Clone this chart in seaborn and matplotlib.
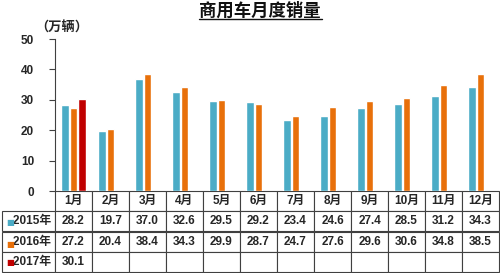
import numpy as np
import pandas as pd
import seaborn as sns
import matplotlib
matplotlib.use("Agg")
import matplotlib.pyplot as plt
from matplotlib.lines import Line2D

months = ["1月", "2月", "3月", "4月", "5月", "6月", "7月", "8月", "9月", "10月", "11月", "12月"]
series_names = ["2015年", "2016年", "2017年"]
sales_2015 = [28.2, 19.7, 37.0, 32.6, 29.5, 29.2, 23.4, 24.6, 27.4, 28.5, 31.2, 34.3]
sales_2016 = [27.2, 20.4, 38.4, 34.3, 29.9, 28.7, 24.7, 27.6, 29.6, 30.6, 34.8, 38.5]
sales_2017 = [30.1]
colors = ["#4BACC6", "#E8700A", "#C00000"]
yticks = [0, 10, 20, 30, 40, 50]

sns.set_theme(style="white")
FONTS = ["Liberation Sans", "Noto Sans CJK SC", "DejaVu Sans"]
plt.rcParams["font.family"] = FONTS

rows = []
for name, vals in zip(series_names, [sales_2015, sales_2016, sales_2017]):
    for m, v in zip(months, vals):
        rows.append({"month": m, "year": name, "value": v})
df = pd.DataFrame(rows)

fig = plt.figure(figsize=(5.0, 2.73), dpi=100)
W, H = 500, 273
ax_l, ax_r, ax_t, ax_b = 55, 499, 39, 191
ax = fig.add_axes([ax_l / W, 1 - ax_b / H, (ax_r - ax_l) / W, (ax_b - ax_t) / H])

sns.barplot(data=df, x="month", y="value", hue="year", order=months,
            hue_order=series_names, palette=colors, width=0.69, gap=0.12,
            errorbar=None, legend=False, ax=ax, saturation=1)

ax.set_xlim(-0.5, len(months) - 0.5)
ax.set_ylim(0, 50)
ax.set_yticks(yticks)
ax.set_yticklabels([str(t) for t in yticks], fontsize=8.5, fontweight="bold")
ax.tick_params(axis="y", direction="out", length=4, width=0.8, color="#404040", pad=11, left=True)
ax.tick_params(axis="x", bottom=False, labelbottom=False)
ax.set_xlabel("")
ax.set_ylabel("")
for s in ["top", "right", "bottom"]:
    ax.spines[s].set_visible(False)
ax.spines["left"].set_color("#404040")
ax.spines["left"].set_linewidth(0.8)

# data table
aw = ax_r - ax_l
ah = ax_b - ax_t
tbl_top, tbl_bottom = 191, 272
cell_text = [
    [f"{v:.1f}" for v in sales_2015],
    [f"{v:.1f}" for v in sales_2016],
    [f"{v:.1f}" for v in sales_2017] + [""] * (len(months) - len(sales_2017)),
]
tbl = ax.table(cellText=cell_text, colLabels=months,
               cellLoc="center",
               colWidths=[1 / len(months)] * len(months),
               bbox=[0, -(tbl_bottom - tbl_top) / ah, 1, (tbl_bottom - tbl_top) / ah])
cell_h = tbl[(0, 0)].get_height()
for i, name in enumerate(series_names):
    tbl.add_cell(i + 1, -1, width=53 / aw, height=cell_h, text=name + " ", loc="right")
tbl.auto_set_font_size(False)
for (r, c), cell in tbl.get_celld().items():
    cell.set_edgecolor("#404040")
    cell.set_linewidth(0.8)
    cell.set_facecolor("white")
    t = cell.get_text()
    t.set_fontsize(8.5)
    t.set_fontweight("bold")
    t.set_fontfamily(FONTS)
    if c == -1:
        cell.PAD = 0.02
row_centers = [223, 244, 263]
for name, col, yc in zip(series_names, colors, row_centers):
    fig.text(6 / W, 1 - yc / H, "■", color=col, fontsize=6, ha="left", va="center",
             family=["DejaVu Sans"])

# title
fig.text(260 / W, 1 - 10 / H, "商用车月度销量", ha="center", va="center",
         fontsize=12.5, fontweight="bold", family=FONTS, color="#111111")
fig.add_artist(Line2D([199 / W, 322 / W], [1 - 18.5 / H, 1 - 18.5 / H], color="#111111", lw=1.0))
fig.text(62 / W, 1 - 28 / H, "（万辆）", ha="center", va="center",
         fontsize=9.5, fontweight="bold", family=FONTS)

fig.savefig("out.png", dpi=100)
